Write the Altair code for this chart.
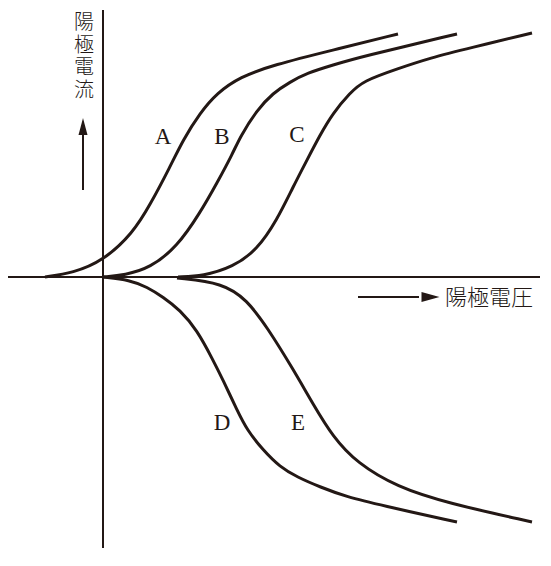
import altair as alt
import pandas as pd

INK = "#231815"

# Curve data (anode voltage v, anode current i), arbitrary units
a_v = [-5.8, -3.0, 0.0, 3.0, 4.7, 6.7, 8.0, 9.7, 11.4, 13.7, 17.0, 23.0, 29.5]
a_i = [0.0, 0.4, 1.6, 4.4, 7.2, 11.0, 13.7, 16.4, 18.4, 20.0, 21.2, 22.7, 24.3]

b_v = [0.0, 2.2, 4.7, 7.4, 9.7, 11.4, 13.0, 13.7, 15.4, 17.0, 18.7, 20.4, 23.0, 25.7, 35.4]
b_i = [0.0, 0.2, 0.9, 3.0, 6.4, 9.4, 12.4, 14.0, 16.7, 18.4, 19.5, 20.4, 21.2, 22.0, 24.3]

c_v = [7.5, 10.0, 13.0, 15.4, 17.4, 19.0, 20.4, 21.7, 23.0, 24.7, 26.0, 29.4, 32.7, 36.7, 42.9]
c_i = [0.0, 0.1, 1.0, 2.7, 5.7, 9.0, 11.7, 14.2, 16.4, 18.4, 19.6, 20.8, 21.9, 22.9, 24.4]

d_v = [0.0, 2.7, 4.4, 6.0, 7.7, 9.4, 11.0, 12.0, 13.4, 14.4, 16.0, 17.7, 19.4, 21.7, 24.4, 27.7, 35.4]
d_i = [0.0, -0.3, -1.0, -2.0, -3.3, -5.3, -8.3, -10.3, -13.3, -15.3, -17.3, -19.0, -20.0, -21.0, -22.0, -22.8, -24.5]

e_v = [7.4, 12.0, 14.4, 16.4, 19.0, 21.0, 23.0, 25.4, 29.4, 34.4, 42.9]
e_i = [-0.1, -0.6, -2.3, -5.0, -9.2, -12.7, -16.0, -18.6, -21.0, -22.6, -24.5]

curve_names = ["A", "B", "C", "D", "E"]
label_v = [6.0, 11.9, 19.4, 11.9, 19.5]
label_i = [14.0, 14.0, 14.2, -14.6, -14.6]

y_title = ["陽", "極", "電", "流"]
x_title = "陽極電圧"

rows = []
for name, vs, is_ in zip(curve_names, [a_v, b_v, c_v, d_v, e_v], [a_i, b_i, c_i, d_i, e_i]):
    for k, (v, i) in enumerate(zip(vs, is_)):
        rows.append({"curve": name, "v": v, "i": i, "k": k})
df = pd.DataFrame(rows)

XS = alt.Scale(domain=[-9.5, 44.0], nice=False, zero=False)
YS = alt.Scale(domain=[-28.1, 26.9], nice=False, zero=False)

def X(f):
    return alt.X(f, type="quantitative", scale=XS, axis=None)

def Y(f):
    return alt.Y(f, type="quantitative", scale=YS, axis=None)

lines = alt.Chart(df).mark_line(
    interpolate="basis", strokeWidth=3, color=INK, strokeCap="butt"
).encode(x=X("v"), y=Y("i"), detail="curve:N", order="k:Q")

axes_df = pd.DataFrame({
    "x": [-9.5, 0.0], "x2": [43.7, 0.0],
    "y": [0.0, 26.7], "y2": [0.0, -27.1],
})
axes = alt.Chart(axes_df).mark_rule(strokeWidth=2, color=INK).encode(
    x=X("x"), x2="x2:Q", y=Y("y"), y2="y2:Q"
)

shaft_df = pd.DataFrame({
    "x": [-2.0, 25.5], "x2": [-2.0, 31.6],
    "y": [8.7, -2.0], "y2": [14.3, -2.0],
})
shafts = alt.Chart(shaft_df).mark_rule(strokeWidth=2, color=INK).encode(
    x=X("x"), x2="x2:Q", y=Y("y"), y2="y2:Q"
)

up_head = alt.Chart(pd.DataFrame({"x": [-2.0], "y": [15.05]})).mark_point(
    shape="M0,-1L0.53,1L-0.53,1Z", size=289, filled=True, color=INK, opacity=1
).encode(x=X("x"), y=Y("y"))

right_head = alt.Chart(pd.DataFrame({"x": [32.75], "y": [-2.0]})).mark_point(
    shape="M1,0L-1,0.55L-1,-0.55Z", size=324, filled=True, color=INK, opacity=1
).encode(x=X("x"), y=Y("y"))

labels_df = pd.DataFrame({"name": curve_names, "v": label_v, "i": label_i})
labels = alt.Chart(labels_df).mark_text(
    font="Liberation Serif", fontSize=23, color=INK, align="center", baseline="middle"
).encode(x=X("v"), y=Y("i"), text="name:N")

# vertical title: one character per row, stacked downward
ytitle_df = pd.DataFrame({
    "ch": y_title,
    "x": [-1.9] * len(y_title),
    "y": [25.4 - 2.25 * n for n in range(len(y_title))],
})
ytitle = alt.Chart(ytitle_df).mark_text(
    font="Noto Sans CJK JP", fontSize=20, color=INK,
    align="center", baseline="middle", fontWeight=300
).encode(x=X("x"), y=Y("y"), text="ch:N")

xtitle = alt.Chart(pd.DataFrame({"x": [34.2], "y": [-2.1]})).mark_text(
    text=x_title, font="Noto Sans CJK JP", fontSize=22,
    color=INK, align="left", baseline="middle", fontWeight=300
).encode(x=X("x"), y=Y("y"))

chart = alt.layer(axes, lines, shafts, up_head, right_head, labels, ytitle, xtitle).properties(
    width=535, height=550, padding=0, autosize="none", background="white"
).configure_view(stroke=None)

chart.save("out.html", embed_options={"renderer": "svg", "actions": False})
